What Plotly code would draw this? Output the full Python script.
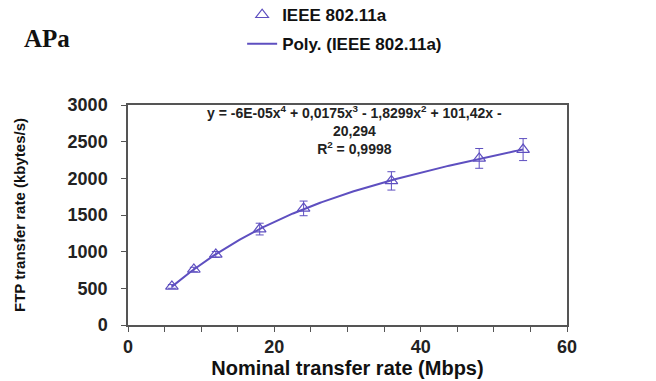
import numpy as np
import plotly.graph_objects as go

# Data
rate_mbps = [6, 9, 12, 18, 24, 36, 48, 54]
ftp_kbytes = [526, 757, 962, 1308, 1590, 1965, 2272, 2392]
ftp_err = [25, 30, 40, 80, 100, 125, 135, 150]
x_ticks = [0, 20, 40, 60]
y_ticks = [0, 500, 1000, 1500, 2000, 2500, 3000]

PURPLE = "#5e4fc0"
AXIS = "#555555"
SANS = "Liberation Sans, Arial, sans-serif"

# 4th-order polynomial trendline fitted on the data (as Excel does)
coef = np.polyfit(rate_mbps, ftp_kbytes, 4)
xs = np.linspace(min(rate_mbps), max(rate_mbps), 200)
ys = np.polyval(coef, xs)

fig = go.Figure()
fig.add_trace(go.Scatter(
    x=rate_mbps, y=ftp_kbytes, mode="markers", name="IEEE 802.11a",
    legendgroup="a",
    marker=dict(symbol="triangle-up-open", size=11, color=PURPLE, line=dict(width=1.2, color=PURPLE)),
    error_y=dict(type="data", array=ftp_err, visible=True, color=PURPLE, thickness=1, width=4),
))
fig.add_trace(go.Scatter(
    x=xs, y=ys, mode="lines", name="Poly. (IEEE 802.11a)", legendgroup="b",
    line=dict(color=PURPLE, width=2),
))

fig.add_annotation(
    x=0.515, y=1.02, xref="paper", yref="paper", xanchor="center", yanchor="top",
    text="<b>y = -6E-05x<sup>4</sup> + 0,0175x<sup>3</sup> - 1,8299x<sup>2</sup> + 101,42x -<br>20,294<br>R<sup>2</sup> = 0,9998</b>",
    showarrow=False, align="center",
    font=dict(family=SANS, size=14, color="#222222"),
)
fig.add_annotation(
    x=-0.241, y=1.30, xref="paper", yref="paper", xanchor="left", yanchor="middle",
    text="<b>APa</b>", showarrow=False,
    font=dict(family="Liberation Serif, Times New Roman, serif", size=25, color="#111111"),
)

fig.update_layout(
    width=656, height=381,
    margin=dict(l=128, r=89, t=105, b=56, autoexpand=False),
    paper_bgcolor="white", plot_bgcolor="white",
    font=dict(family=SANS, color="#111111"),
    showlegend=True,
    legend=dict(
        x=0.26, y=1.49, xanchor="left", yanchor="top",
        bgcolor="rgba(0,0,0,0)", traceorder="grouped", tracegroupgap=4,
        font=dict(size=17, family=SANS, weight="bold"),
        itemwidth=30,
    ),
    xaxis=dict(
        range=[0, 60], tickvals=x_ticks, ticks="outside", ticklen=5, tickcolor=AXIS,
        showline=True, linecolor=AXIS, linewidth=1.5, mirror=True, showgrid=False, zeroline=False,
        automargin=False,
        minor=dict(dtick=5, ticks="outside", ticklen=5, tickcolor=AXIS),
        tickfont=dict(size=18, weight="bold", color="#222222"),
        title=dict(text="<b>Nominal transfer rate (Mbps)</b>", font=dict(size=20), standoff=2),
    ),
    yaxis=dict(
        range=[0, 3000], tickvals=y_ticks, ticks="outside", ticklen=5, tickcolor=AXIS,
        showline=True, linecolor=AXIS, linewidth=1.5, mirror=True, showgrid=False, zeroline=False,
        automargin=False,
        tickfont=dict(size=18, weight="bold", color="#222222"),
        ticklabelstandoff=10,
        title=dict(text="<b>FTP transfer rate (kbytes/s)</b>", font=dict(size=15), standoff=38),
    ),
)

fig.write_html("out.html")
